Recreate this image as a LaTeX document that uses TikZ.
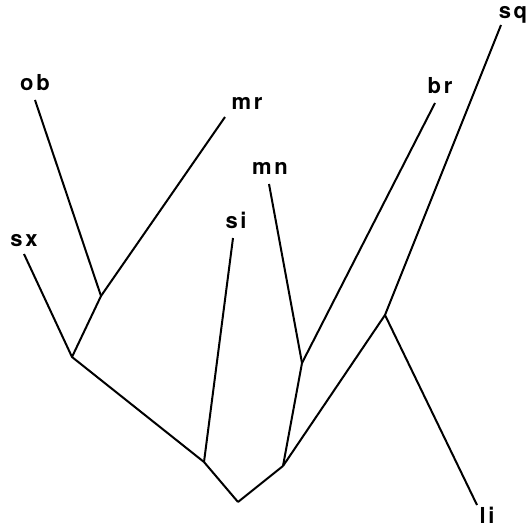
\documentclass[tikz,border=0pt]{standalone}
\usepackage{fontspec}
\setsansfont{TeX Gyre Heros}[LetterSpace=12]
\begin{document}
\begin{tikzpicture}[x=1pt, y=-1pt,
                    branch/.style={line width=2pt, line join=miter},
                    taxon/.style={font=\sffamily\bfseries\fontsize{22}{22}\selectfont, inner sep=0pt, anchor=base}]

            \useasboundingbox (0,0) rectangle (529,529);

            % internal vertices
            \coordinate (root) at (238,502);
            \coordinate (l0) at (204,462);
            \coordinate (r0) at (283,466);
            \coordinate (l1) at (72,357);
            \coordinate (l2) at (101,296);
            \coordinate (r1) at (302,363);
            \coordinate (r2) at (385,315);

            % leaf tips
            \coordinate (t_sx) at (24,254);
            \coordinate (t_ob) at (35,100);
            \coordinate (t_mr) at (225,117);
            \coordinate (t_si) at (233,238);
            \coordinate (t_mn) at (269,184);
            \coordinate (t_br) at (435,103);
            \coordinate (t_sq) at (501,25);
            \coordinate (t_li) at (477,505);

            % labels
            \node[taxon] (sx) at (24,246)  {sx};
            \node[taxon] (ob) at (35,91)   {ob};
            \node[taxon] (mr) at (247,110) {mr};
            \node[taxon] (si) at (236,228) {si};
            \node[taxon] (mn) at (270,175) {mn};
            \node[taxon] (br) at (440,94)  {br};
            \node[taxon] (sq) at (513,19)  {sq};
            \node[taxon] (li) at (487,523) {li};

            \draw[branch] (t_sx) -- (l1) -- (l0) -- (root);
            \draw[branch] (t_ob) -- (l2) -- (l1);
            \draw[branch] (t_mr) -- (l2);
            \draw[branch] (t_si) -- (l0);
            \draw[branch] (root) -- (r0);
            \draw[branch] (t_mn) -- (r1) -- (r0);
            \draw[branch] (t_br) -- (r1);
            \draw[branch] (t_sq) -- (r2) -- (r0);
            \draw[branch] (r2) -- (t_li);
        \end{tikzpicture}
\end{document}
